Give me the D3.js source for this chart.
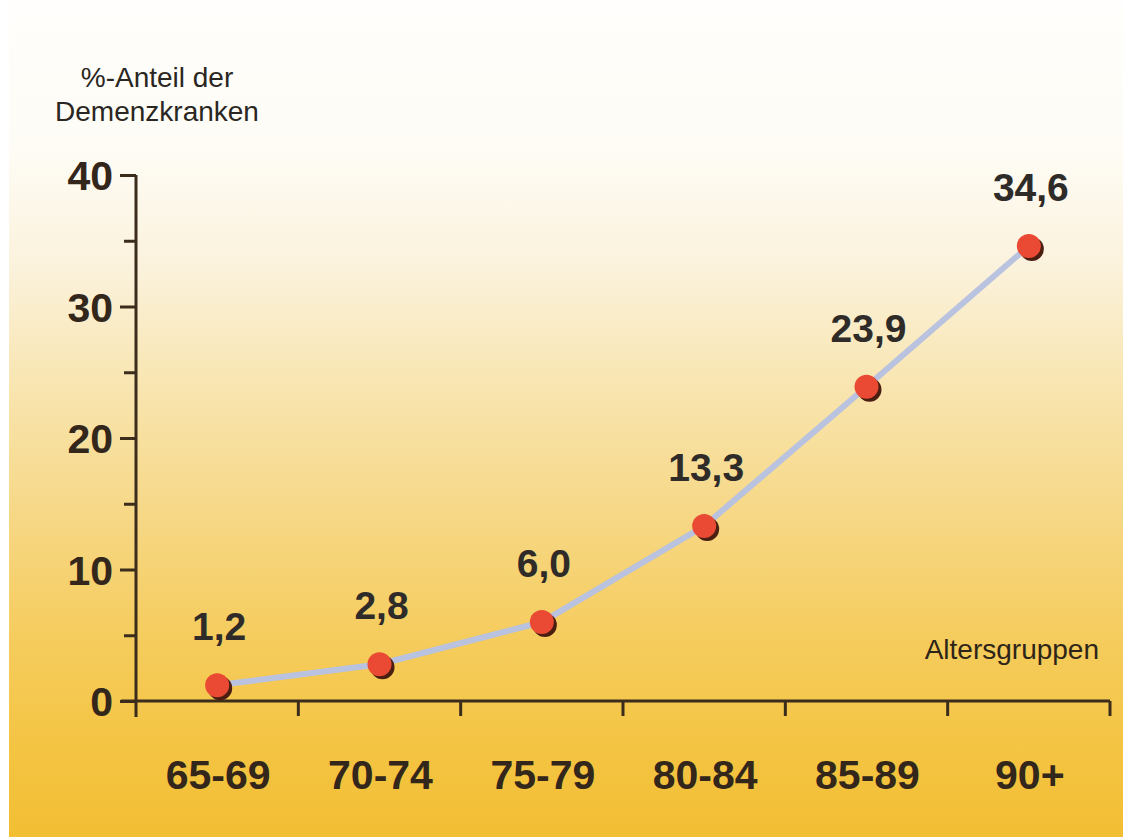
<!DOCTYPE html>
<html><head><meta charset="utf-8">
<script src="https://cdn.jsdelivr.net/npm/d3@7"></script>
<style>
html,body{margin:0;padding:0;background:#fff;}
svg{display:block;}
text{font-family:"Liberation Sans",Arial,sans-serif;}
</style></head>
<body>
<svg id="chart" width="1123" height="837"></svg>
<script>
const categories = ["65-69","70-74","75-79","80-84","85-89","90+"];
const values = [1.2, 2.8, 6.0, 13.3, 23.9, 34.6];
const valueLabels = ["1,2","2,8","6,0","13,3","23,9","34,6"];
const majorTicks = [0,10,20,30,40];
const minorTicks = [5,15,25,35];
const yTitle = ["%-Anteil der","Demenzkranken"];
const xTitle = "Altersgruppen";

const svg = d3.select("#chart");
const W = 1123, H = 837;

// background gradient
const defs = svg.append("defs");
const g = defs.append("linearGradient").attr("id","bg").attr("x1",0).attr("y1",0).attr("x2",0).attr("y2",1);
[[0,"#fffefc"],[0.18,"#fefcf5"],[0.32,"#fbf2dc"],[0.47,"#f8e4ad"],[0.62,"#f6d784"],[0.76,"#f5cc5e"],[0.88,"#f4c545"],[1,"#f2be33"]]
  .forEach(([o,c])=>g.append("stop").attr("offset",o).attr("stop-color",c));
svg.append("rect").attr("width",W).attr("height",H).attr("fill","#fff");
svg.append("rect").attr("x",9).attr("y",0).attr("width",W-9).attr("height",H).attr("fill","url(#bg)");

const x = d3.scaleBand().domain(categories).range([136,1110]).padding(0);
const y = d3.scaleLinear().domain([0,40]).range([701,175]);
const axisColor = "#3b2c1c";

// minor ticks
svg.append("g").attr("transform","translate(136,0)")
  .call(d3.axisLeft(y).tickValues(minorTicks).tickSize(12).tickFormat(""))
  .call(a=>a.select(".domain").remove())
  .call(a=>a.selectAll("line").attr("stroke",axisColor).attr("stroke-width",3));
// major ticks
svg.append("g").attr("transform","translate(136,0)")
  .call(d3.axisLeft(y).tickValues(majorTicks).tickSize(16).tickPadding(7).tickFormat(d3.format("d")))
  .call(a=>a.select(".domain").remove())
  .call(a=>a.selectAll("line").attr("stroke",axisColor).attr("stroke-width",3))
  .call(a=>a.selectAll("text").attr("fill","#33261a").attr("font-size",41).attr("font-weight","bold")
        .attr("font-family","'Liberation Sans',Arial,sans-serif").attr("dy","0.36em"));

// y axis line
svg.append("line").attr("x1",136).attr("x2",136).attr("y1",y(40)).attr("y2",y(0)+16)
  .attr("stroke",axisColor).attr("stroke-width",3);
// x axis line
svg.append("line").attr("x1",121).attr("x2",x.range()[1]).attr("y1",y(0)).attr("y2",y(0))
  .attr("stroke",axisColor).attr("stroke-width",3);
// x ticks at band boundaries
svg.append("g").selectAll("line").data(categories).join("line")
  .attr("x1",d=>x(d)+x.bandwidth()).attr("x2",d=>x(d)+x.bandwidth())
  .attr("y1",y(0)).attr("y2",y(0)+15)
  .attr("stroke",axisColor).attr("stroke-width",3);

// x labels
svg.append("g").selectAll("text").data(categories).join("text")
  .attr("x",d=>x(d)+x.bandwidth()/2+1).attr("y",789)
  .attr("text-anchor","middle").attr("font-size",41).attr("font-weight","bold").attr("fill","#33261a")
  .text(d=>d);

// line
const pts = categories.map((c,i)=>({c, v:values[i], l:valueLabels[i]}));
const line = d3.line().x(d=>x(d.c)+x.bandwidth()/2).y(d=>y(d.v));
svg.append("path").datum(pts).attr("d",line).attr("fill","none")
  .attr("stroke","#b9c2de").attr("stroke-width",6).attr("stroke-linecap","round");

// points with shadow
const pg = svg.append("g");
pg.selectAll("circle.sh").data(pts).join("circle").attr("class","sh")
  .attr("cx",d=>x(d.c)+x.bandwidth()/2+3).attr("cy",d=>y(d.v)+3).attr("r",12).attr("fill","#4a1e10");
pg.selectAll("circle.pt").data(pts).join("circle").attr("class","pt")
  .attr("cx",d=>x(d.c)+x.bandwidth()/2).attr("cy",d=>y(d.v)).attr("r",12).attr("fill","#ea4a33");

// value labels
svg.append("g").selectAll("text").data(pts).join("text")
  .attr("x",d=>x(d.c)+x.bandwidth()/2+2).attr("y",d=>y(d.v)-45)
  .attr("text-anchor","middle").attr("font-size",39).attr("font-weight","bold").attr("fill","#2e2b28")
  .text(d=>d.l);

// titles
svg.append("text").attr("text-anchor","middle").attr("font-size",28).attr("fill","#2a2622")
  .selectAll("tspan").data(yTitle).join("tspan").attr("x",157).attr("y",(d,i)=>87+i*34).text(d=>d);
svg.append("text").attr("x",1099).attr("y",659).attr("text-anchor","end").attr("font-size",28).attr("fill","#2e2518").text(xTitle);
</script>
</body></html>
